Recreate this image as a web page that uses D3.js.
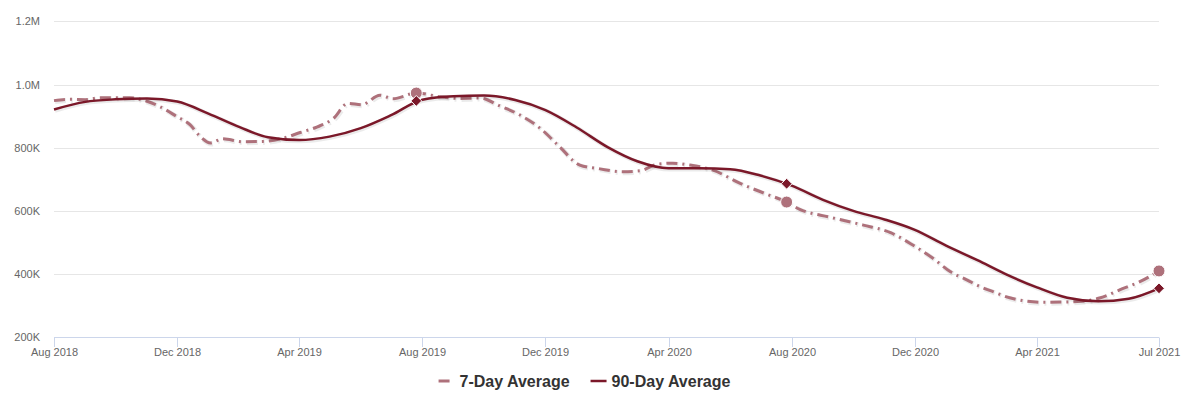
<!DOCTYPE html>
<html>
<head>
<meta charset="utf-8">
<script src="https://cdn.jsdelivr.net/npm/d3@7"></script>
<style>
  body { margin: 0; background: #fff; }
  text { font-family: Arial, "Liberation Sans", sans-serif; }
</style>
</head>
<body>
<div id="chart"></div>
<script>
// 7-day average (thousands)
const avg7Dates = [
  "2018-08-01","2018-08-17","2018-09-01","2018-09-16","2018-10-02","2018-10-15","2018-10-28",
  "2018-11-14","2018-12-01","2018-12-14","2018-12-24","2019-01-03","2019-01-15","2019-02-04",
  "2019-02-24","2019-03-16","2019-04-02","2019-04-19","2019-05-05","2019-05-19","2019-06-02",
  "2019-06-20","2019-07-03","2019-07-26","2019-08-19","2019-09-07","2019-09-27","2019-10-17",
  "2019-11-06","2019-11-26","2019-12-15","2020-01-04","2020-01-24","2020-02-16","2020-03-04",
  "2020-03-21","2020-04-05","2020-04-22","2020-05-15","2020-06-11","2020-07-08","2020-07-27",
  "2020-08-09","2020-09-08","2020-10-11","2020-11-07","2020-11-29","2020-12-19","2021-01-05",
  "2021-01-22","2021-02-04","2021-02-17","2021-03-05","2021-04-07","2021-05-11","2021-06-03",
  "2021-06-22","2021-07-12","2021-07-31"
];
const avg7Values = [
  949, 953, 952, 958, 958, 958, 951,
  930, 898, 872, 835, 815, 828, 819,
  820, 830, 848, 866, 893, 940, 936,
  966, 955, 973, 961, 956, 957, 932,
  903, 861, 803, 745, 733, 724, 727,
  748, 751, 745, 729, 687, 652, 628,
  605, 580, 555, 531, 492, 450, 408,
  381, 360, 344, 325, 311, 313, 325,
  350, 376, 410
];

// 90-day average (thousands)
const avg90Dates = [
  "2018-08-01","2018-09-01","2018-10-01","2018-11-01","2018-12-01","2019-01-01","2019-02-01",
  "2019-03-01","2019-04-01","2019-05-01","2019-06-01","2019-07-01","2019-08-01","2019-09-01",
  "2019-10-01","2019-11-01","2019-12-01","2020-01-01","2020-02-01","2020-03-01","2020-04-01",
  "2020-05-01","2020-06-01","2020-07-01","2020-08-01","2020-09-01","2020-10-01","2020-11-01",
  "2020-12-01","2021-01-01","2021-02-01","2021-03-01","2021-04-01","2021-05-01","2021-06-01",
  "2021-07-01","2021-07-31"
];
const avg90Values = [
  921, 945, 953, 956, 946, 908, 865,
  833, 824, 835, 862, 903, 952, 963,
  965, 951, 919, 864, 801, 757, 735,
  735, 732, 712, 680, 635, 600, 573,
  540, 490, 444, 400, 358, 325, 314,
  322, 355
];

// highlighted points
const markerDates = ["2019-07-26", "2020-07-27", "2021-07-31"];
const markers7 = [973, 628, 410];
const markers90 = [948, 686, 355];

const yTicks = [200, 400, 600, 800, 1000, 1200];
const xTickDates = ["2018-08-01","2018-12-01","2019-04-01","2019-08-01","2019-12-01",
  "2020-04-01","2020-08-01","2020-12-01","2021-04-01","2021-07-31"];

const seriesNames = ["7-Day Average", "90-Day Average"];
const color7 = "#ae717b";
const color90 = "#7b1829";
const dash7 = "11,5,2,5";

const width = 1182, height = 405;
const parse = d3.utcParse("%Y-%m-%d");

const svg = d3.select("#chart").append("svg")
  .attr("width", width)
  .attr("height", height);

const x = d3.scaleUtc()
  .domain([parse("2018-08-01"), parse("2021-07-31")])
  .range([54, 1159]);

const y = d3.scaleLinear()
  .domain([200, 1200])
  .range([337.3, 21.3]);

const fmtY = v => v >= 1000 ? (v / 1000).toFixed(1) + "M" : v + "K";

// gridlines + y labels
const yAxis = svg.append("g");
yTicks.forEach(t => {
  if (t > 200) {
    yAxis.append("line")
      .attr("x1", 54).attr("x2", 1159)
      .attr("y1", Math.round(y(t)) + 0.5).attr("y2", Math.round(y(t)) + 0.5)
      .attr("stroke", "#e6e6e6");
  }
  yAxis.append("text")
    .attr("x", 40).attr("y", y(t) + 4)
    .attr("text-anchor", "end")
    .attr("font-size", 11)
    .attr("fill", "#666")
    .text(fmtY(t));
});

// x axis
const xAxis = svg.append("g");
xAxis.append("line")
  .attr("x1", 54).attr("x2", 1159)
  .attr("y1", 337.5).attr("y2", 337.5)
  .attr("stroke", "#ccd6eb");
xTickDates.forEach(d => {
  const px = Math.round(x(parse(d))) + 0.5;
  xAxis.append("line")
    .attr("x1", px).attr("x2", px)
    .attr("y1", 337.5).attr("y2", 347)
    .attr("stroke", "#ccd6eb");
  xAxis.append("text")
    .attr("x", px).attr("y", 356)
    .attr("text-anchor", "middle")
    .attr("font-size", 11)
    .attr("fill", "#666")
    .text(d3.utcFormat("%b %Y")(parse(d)));
});

const line = d3.line()
  .x(d => x(d[0]))
  .y(d => y(d[1]))
  .curve(d3.curveMonotoneX);

const data7 = avg7Dates.map((d, i) => [parse(d), avg7Values[i]]);
const data90 = avg90Dates.map((d, i) => [parse(d), avg90Values[i]]);

function drawLine(data, color, w, dash) {
  // soft shadow
  svg.append("path")
    .datum(data)
    .attr("d", line)
    .attr("fill", "none")
    .attr("stroke", "#000")
    .attr("stroke-opacity", 0.08)
    .attr("stroke-width", w + 2)
    .attr("stroke-dasharray", dash)
    .attr("transform", "translate(1,1)");
  svg.append("path")
    .datum(data)
    .attr("d", line)
    .attr("fill", "none")
    .attr("stroke", color)
    .attr("stroke-width", w)
    .attr("stroke-dasharray", dash);
}

drawLine(data7, color7, 3, dash7);
drawLine(data90, color90, 2.5, null);

// markers
markerDates.forEach((d, i) => {
  const px = x(parse(d));
  svg.append("circle")
    .attr("cx", px).attr("cy", y(markers7[i]))
    .attr("r", 6)
    .attr("fill", color7)
    .attr("stroke", "#fff")
    .attr("stroke-width", 1);
  svg.append("path")
    .attr("d", d3.symbol(d3.symbolDiamond2, 75)())
    .attr("transform", `translate(${px},${y(markers90[i])})`)
    .attr("fill", color90)
    .attr("stroke", "#fff")
    .attr("stroke-width", 1);
});

// legend
const legend = svg.append("g");
const legendItems = [
  { name: seriesNames[0], color: color7, w: 3, dash: dash7 },
  { name: seriesNames[1], color: color90, w: 2.5, dash: null }
];
let lx = 0;
const ly = 381;
legendItems.forEach(it => {
  const g = legend.append("g").attr("transform", `translate(${lx},0)`);
  g.append("line")
    .attr("x1", 0).attr("x2", 16)
    .attr("y1", ly).attr("y2", ly)
    .attr("stroke", it.color)
    .attr("stroke-width", it.w)
    .attr("stroke-dasharray", it.dash);
  const t = g.append("text")
    .attr("x", 21).attr("y", ly + 6)
    .attr("font-size", 16)
    .attr("font-weight", "bold")
    .attr("fill", "#333")
    .text(it.name);
  lx += 21 + t.node().getComputedTextLength() + 21;
});
const legendW = lx - 21;
legend.attr("transform", `translate(${584.5 - legendW / 2},0)`);
</script>
</body>
</html>
